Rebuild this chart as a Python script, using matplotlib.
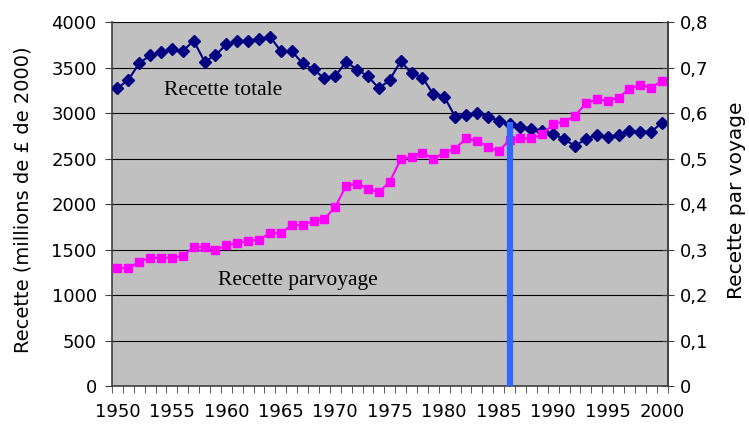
import matplotlib
matplotlib.use("Agg")
from matplotlib import pyplot as plt
import numpy as np

years = np.arange(1950, 2001)

# recette totale (millions de £ de 2000), axe gauche
recette_totale = [3270, 3365, 3545, 3635, 3665, 3705, 3680, 3795, 3565, 3635,
                  3755, 3790, 3795, 3815, 3840, 3680, 3680, 3545, 3480, 3380,
                  3405, 3565, 3475, 3405, 3270, 3365, 3570, 3435, 3390, 3205,
                  3180, 2960, 2980, 3005, 2960, 2915, 2880, 2850, 2825, 2800,
                  2770, 2710, 2640, 2710, 2760, 2735, 2760, 2800, 2795, 2795,
                  2895]

# recette par voyage, axe droit
recette_voyage = [0.259, 0.259, 0.273, 0.282, 0.282, 0.282, 0.286, 0.305, 0.305, 0.299,
                  0.309, 0.314, 0.319, 0.322, 0.336, 0.336, 0.354, 0.354, 0.363, 0.367,
                  0.394, 0.440, 0.445, 0.434, 0.426, 0.449, 0.498, 0.504, 0.513, 0.499,
                  0.513, 0.522, 0.544, 0.539, 0.526, 0.516, 0.541, 0.544, 0.544, 0.553,
                  0.576, 0.581, 0.594, 0.621, 0.630, 0.626, 0.634, 0.653, 0.662, 0.656,
                  0.671]

marque_annee = 1986
marque_haut = 2900

left_ticks = np.arange(0, 4001, 500)
right_ticks = np.arange(0, 0.81, 0.1)
right_labels = ["0" if t == 0 else ("%.1f" % t).replace(".", ",") for t in right_ticks]
x_labels = np.arange(1950, 2001, 5)

fig = plt.figure(figsize=(7.49, 4.28), dpi=100)
ax = fig.add_axes([0.1495, 0.098, 0.7425, 0.8506])
ax.set_facecolor("#C0C0C0")
ax.set_xlim(1949.5, 2000.55)
ax.set_ylim(0, 4000)
ax.set_yticks(left_ticks)
ax.yaxis.grid(True, color="black", lw=0.8)
ax.set_axisbelow(True)

ax.set_xticks(x_labels)
ax.set_xticklabels([str(x) for x in x_labels])
ax.set_xticks(np.arange(1949.5, 2001, 1), minor=True)
ax.tick_params(axis="x", which="major", length=0, pad=12, labelsize=13)
ax.tick_params(axis="x", which="minor", length=5, color="#404040")
ax.tick_params(axis="y", length=5, color="#404040", labelsize=13, pad=6)

ax.spines["top"].set_visible(False)
for s in ["left", "right", "bottom"]:
    ax.spines[s].set_color("#404040")
    ax.spines[s].set_linewidth(1.2)

ax.plot(years, recette_totale, color="#000080", marker="D", ms=6, lw=1.5, zorder=5)

ax2 = ax.twinx()
ax2.set_ylim(0, 0.8)
ax2.set_yticks(right_ticks)
ax2.set_yticklabels(right_labels)
ax2.tick_params(axis="y", direction="inout", length=9, color="#404040", labelsize=13, pad=4)
for s in ["top", "left", "bottom"]:
    ax2.spines[s].set_visible(False)
ax2.spines["right"].set_color("#404040")
ax2.spines["right"].set_linewidth(1.2)
ax2.plot(years, recette_voyage, color="#FF00FF", marker="s", ms=5.5, lw=1.5, zorder=5)

# trait vertical bleu, au-dessus des deux séries
ax2.vlines(marque_annee, 0, marque_haut, color="#3366FF", lw=4.5, zorder=6,
           transform=ax.transData)

fig.text(23 / 749, 1 - 200 / 428, "Recette (millions de £ de 2000)", rotation=90,
         ha="center", va="center", fontsize=14)
fig.text(736 / 749, 1 - 200 / 428, "Recette par voyage", rotation=90,
         ha="center", va="center", fontsize=14.5)

ax.text(1954.3, 3250, "Recette totale", family="Liberation Serif", fontsize=15.5,
        va="center", ha="left")
ax.text(1959.2, 1165, "Recette parvoyage", family="Liberation Serif", fontsize=15.5,
        va="center", ha="left")

fig.savefig("out.png", dpi=100)
